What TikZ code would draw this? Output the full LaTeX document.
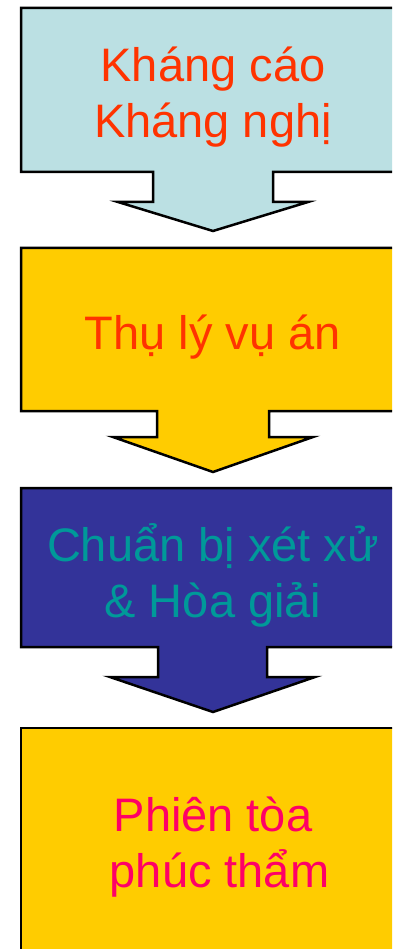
\documentclass[tikz,border=0pt]{standalone}
\usepackage{fontspec}
\setmainfont{Liberation Sans}
\definecolor{fillA}{HTML}{BBE0E3}
\definecolor{fillB}{HTML}{FFCC00}
\definecolor{fillC}{HTML}{333399}
\definecolor{txtA}{HTML}{FF3300}
\definecolor{txtC}{HTML}{009999}
\definecolor{txtD}{HTML}{FF0066}
\begin{document}
\begin{tikzpicture}[x=1pt,y=1pt,
  stepshape/.style={draw=black,line width=2.5pt,line join=miter},
  steptext/.style={font=\fontsize{47}{56}\selectfont,align=center,inner sep=0pt,anchor=base}]
\useasboundingbox (0,0) rectangle (392,-949);
\clip (0,0) rectangle (392,-949);
% shape 1
\path[stepshape,fill=fillA] (21,-8) -- (405,-8) -- (405,-172) -- (273,-172) -- (273,-202) -- (308,-202) -- (213,-231) -- (118,-202) -- (153,-202) -- (153,-172) -- (21,-172) -- cycle;
% shape 2
\path[stepshape,fill=fillB] (21,-248) -- (405,-248) -- (405,-411) -- (269,-411) -- (269,-437) -- (313,-437) -- (213,-472) -- (113,-437) -- (157,-437) -- (157,-411) -- (21,-411) -- cycle;
% shape 3
\path[stepshape,fill=fillC] (21,-488) -- (405,-488) -- (405,-647) -- (267,-647) -- (267,-677) -- (315,-677) -- (213,-712) -- (110,-677) -- (158,-677) -- (158,-647) -- (21,-647) -- cycle;
% shape 4
\path[stepshape,fill=fillB] (21,-728) rectangle (405,-960);
% texts (base anchor = baseline of the last line)
\node[steptext,text=txtA] (t1) at (213,-138) {Kháng cáo\\Kháng nghị};
\node[steptext,text=txtA] (t2) at (213,-349) {Thụ lý vụ án};
\node[steptext,text=txtC] (t3) at (213,-617) {Chuẩn bị xét xử\\\& Hòa giải};
\node[steptext,text=txtD] (t4) at (213,-887) {Phiên tòa\\\hspace*{13pt}phúc thẩm};
\end{tikzpicture}
\end{document}
